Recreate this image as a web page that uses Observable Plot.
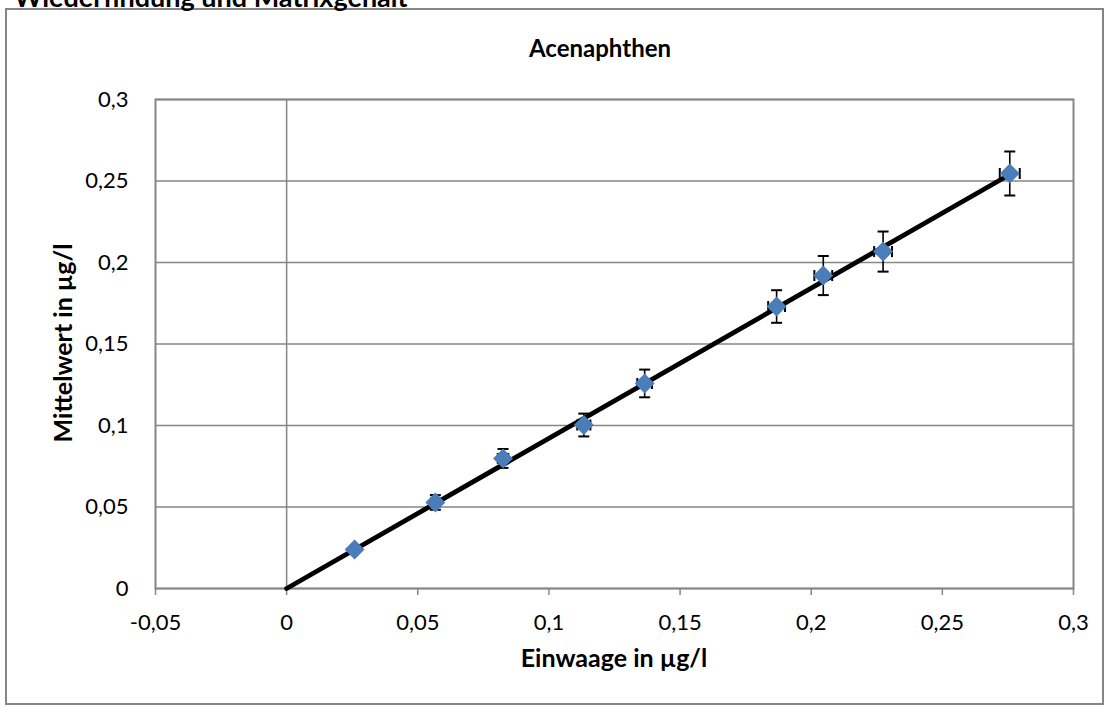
<!DOCTYPE html>
<html>
<head>
<meta charset="utf-8">
<script src="https://cdn.jsdelivr.net/npm/d3@7"></script>
<script src="https://cdn.jsdelivr.net/npm/@observablehq/plot@0.6"></script>
<style>
  html, body { margin: 0; padding: 0; background: #fff; }
  #wrap { position: relative; width: 1108px; height: 708px; overflow: hidden; font-family: Lato, "Open Sans", sans-serif; }
  #outer { position: absolute; left: 5px; top: 8px; width: 1099px; height: 697px; border: 2px solid #868686; box-sizing: border-box; }
  #chart { position: absolute; left: 0; top: 0; }
  .t { position: absolute; font-weight: bold; color: #000; white-space: nowrap; line-height: 1; }
  #suptitle { left: 14px; top: -17px; font-size: 27px; }
  #title { left: 600px; top: 36px; font-size: 24px; transform: translateX(-50%); }
  #xlabel { left: 614px; top: 645px; font-size: 25px; transform: translateX(-50%); }
  #ylabel { left: 62px; top: 343px; font-size: 25px; transform: translate(-50%, -50%) rotate(-90deg); }
</style>
</head>
<body>
<div id="wrap">
  <div id="outer"></div>
  <div id="chart"></div>
  <div class="t" id="suptitle">Wiederfindung und Matrixgehalt</div>
  <div class="t" id="title">Acenaphthen</div>
  <div class="t" id="xlabel">Einwaage in µg/l</div>
  <div class="t" id="ylabel">Mittelwert in µg/l</div>
</div>
<script>
// Data
const einwaage   = [0.0259, 0.0567, 0.0825, 0.1133, 0.1365, 0.1868, 0.2046, 0.2274, 0.2757];
const mittelwert = [0.0239, 0.0528, 0.0798, 0.1003, 0.1258, 0.1730, 0.1920, 0.2067, 0.2546];
const yErr       = [0.0015, 0.0045, 0.0058, 0.0070, 0.0085, 0.0100, 0.0120, 0.0123, 0.0135];
const xErr       = [0.0010, 0.0015, 0.0020, 0.0025, 0.0028, 0.0032, 0.0034, 0.0034, 0.0038];
const trendX = [0, 0.2757];
const trendY = [0, 0.2540];
const xTicks = [-0.05, 0, 0.05, 0.1, 0.15, 0.2, 0.25, 0.3];
const yTicks = [0, 0.05, 0.1, 0.15, 0.2, 0.25, 0.3];

const pts = einwaage.map((x, i) => ({x, y: mittelwert[i], ey: yErr[i], ex: xErr[i]}));
const trend = trendX.map((x, i) => ({x, y: trendY[i]}));
const fmt = d => (+d.toFixed(2)).toString().replace(".", ",");

const hCap = { draw(ctx) { ctx.moveTo(-5.5, 0); ctx.lineTo(5.5, 0); } };
const vCap = { draw(ctx) { ctx.moveTo(0, -5.5); ctx.lineTo(0, 5.5); } };

const grid = "#868686";
const chart = Plot.plot({
  width: 1108,
  height: 708,
  marginLeft: 155,
  marginRight: 35,
  marginTop: 99,
  marginBottom: 120,
  style: { fontFamily: "Lato, 'Open Sans', sans-serif", fontSize: "22px", color: "#000", background: "transparent", overflow: "visible" },
  x: { domain: [-0.05, 0.3], ticks: xTicks },
  y: { domain: [0, 0.3], ticks: yTicks },
  marks: [
    Plot.gridY(yTicks, { stroke: grid, strokeOpacity: 1, strokeWidth: 1.5 }),
    Plot.ruleX([0], { stroke: grid, strokeWidth: 1.5 }),
    Plot.frame({ stroke: grid, strokeWidth: 2 }),
    Plot.axisX(xTicks, { tickFormat: fmt, tickSize: 7, tickPadding: 19, stroke: grid, strokeWidth: 1.5, label: null, fill: "#000" }),
    Plot.axisY(yTicks, { tickFormat: fmt, tickSize: 0, tickPadding: 27, label: null, fill: "#000" }),
    Plot.line(trend, { x: "x", y: "y", stroke: "#000", strokeWidth: 4.8 }),
    // vertical error bars
    Plot.link(pts, { x1: "x", x2: "x", y1: d => d.y - d.ey, y2: d => d.y + d.ey, stroke: "#000", strokeWidth: 1.6 }),
    Plot.dot(pts, { x: "x", y: d => d.y - d.ey, symbol: hCap, stroke: "#000", strokeWidth: 2, fill: "none" }),
    Plot.dot(pts, { x: "x", y: d => d.y + d.ey, symbol: hCap, stroke: "#000", strokeWidth: 2, fill: "none" }),
    // horizontal error bars
    Plot.link(pts, { y1: "y", y2: "y", x1: d => d.x - d.ex, x2: d => d.x + d.ex, stroke: "#000", strokeWidth: 1.6 }),
    Plot.dot(pts, { x: d => d.x - d.ex, y: "y", symbol: vCap, stroke: "#000", strokeWidth: 2, fill: "none" }),
    Plot.dot(pts, { x: d => d.x + d.ex, y: "y", symbol: vCap, stroke: "#000", strokeWidth: 2, fill: "none" }),
    Plot.dot(pts, { x: "x", y: "y", symbol: "diamond2", r: 9, fill: "#4A7EBB", stroke: "none" })
  ]
});
document.getElementById("chart").appendChild(chart);
</script>
</body>
</html>
